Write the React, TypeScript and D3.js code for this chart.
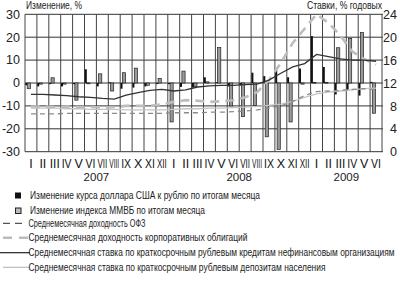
import React from "react";
import * as d3 from "d3";

// ---- data (Jan 2007 .. Jun 2009) ----
const romans = ["I", "II", "III", "IV", "V", "VI", "VII", "VIII", "IX", "X", "XI", "XII"];
const monthLabels = [...romans, ...romans, ...romans.slice(0, 6)];
const years = [
  { label: "2007", start: 0, end: 12 },
  { label: "2008", start: 12, end: 24 },
  { label: "2009", start: 24, end: 30 },
];
// monthly change of USD/RUB, %
const usdChange = [-1, -1.5, -0.5, -1.5, -0.5, 6, -1.5, 0.3, -2.5, -2, -1.5, -0.5,
  -0.5, -1.7, -2, 2.5, 0.3, -1.5, -1, 4.5, 3, 6, 2.5, 6.3,
  20.5, 7, -5, -3, -5.5, 0.5];
// monthly change of MICEX index, %
const micexChange = [-2.5, -0.5, 2.3, -0.5, -7.5, 0, 4, -3.5, 4.5, 6.5, -1, 2,
  -17, 5.2, -1.5, 0.5, 15.5, -10, -14.7, -9.8, -23.5, -29, -17, -0.5,
  0.3, 0.3, 15.4, 19.5, 22, -13.2];
// rates, % annual (right axis)
const ofzYield = [6.6, 6.6, 6.6, 6.7, 6.7, 6.7, 6.7, 6.7, 6.7, 6.7, 6.7, 6.7,
  6.8, 6.8, 6.8, 6.9, 6.9, 7.0, 7.1, 7.3, 7.6, 8.0, 8.8, 9.8,
  10.5, 10.6, 10.7, 10.9, 11.0, 10.8];
const corpYield = [7.9, 7.9, 7.8, 7.9, 7.8, 7.8, 7.7, 7.8, 8.0, 8.0, 8.0, 8.3,
  8.7, 9.0, 8.9, 8.7, 8.8, 9.0, 9.5, 10.4, 12.5, 15.5, 19.0, 21.5,
  24.0, 22.5, 20.3, 17.5, 16.2, 15.2];
const loanRate = [10.0, 10.0, 9.9, 9.8, 9.6, 9.5, 9.3, 9.2, 9.9, 10.3, 10.7, 10.9,
  10.6, 10.8, 11.3, 11.5, 11.6, 11.6, 11.7, 11.8, 12.5, 13.7, 14.8, 15.4,
  17.0, 16.6, 16.2, 16.0, 16.0, 15.8];
const depositRate = [7.6, 7.6, 7.6, 7.5, 7.5, 7.4, 7.4, 7.4, 7.3, 7.3, 7.3, 7.3,
  7.4, 7.5, 7.5, 7.6, 7.6, 7.7, 7.8, 7.9, 8.1, 8.3, 8.8, 9.5,
  10.1, 10.4, 10.6, 10.8, 11.0, 11.1];
const leftTicks = [30, 20, 10, 0, -10, -20, -30];
const rightTicks = [24, 20, 16, 12, 8, 4, 0];

const legendItems = [
  { kind: "black", text: "Изменение курса доллара США к рублю по итогам месяца", len: 230 },
  { kind: "gray", text: "Изменение индекса ММВБ по итогам месяца", len: 175 },
  { kind: "ofz", text: "Среднемесячная доходность ОФЗ", len: 117 },
  { kind: "corp", text: "Среднемесячная доходность корпоративных облигаций", len: 219 },
  { kind: "loan", text: "Среднемесячная ставка по краткосрочным рублевым кредитам нефинансовым организациям", len: 366 },
  { kind: "dep", text: "Среднемесячная ставка по краткосрочным рублевым депозитам населения", len: 297 },
];

const FONT = "'Liberation Sans Narrow', 'Liberation Sans', Arial, sans-serif";
const SANS = "'Liberation Sans', Arial, sans-serif";

// text squeezed horizontally to a given width (scale keeps the box honest)
function Squeezed(props: { x: number; y: number; width: number; size: number; anchor?: string; sx?: number; children: string }) {
  const sx = props.sx ?? 0.72;
  return (
    <text transform={`translate(${props.x},${props.y}) scale(${sx},1)`} fontSize={props.size}
      textAnchor={props.anchor ?? "start"} textLength={props.width / sx} lengthAdjust="spacingAndGlyphs"
      fill="#222">{props.children}</text>
  );
}

export default function App() {
  const W = 400, H = 285;
  const x0 = 25, x1 = 382, yTop = 14.3, yBot = 151.7;
  const n = monthLabels.length;
  const x = d3.scaleLinear().domain([0, n]).range([x0, x1]);
  const yL = d3.scaleLinear().domain([-30, 30]).range([yBot, yTop]);
  const yR = d3.scaleLinear().domain([0, 24]).range([yBot, yTop]);

  const line = (vals: number[]) =>
    d3.line<number>().x((_, i) => x(i + 0.5)).y((v) => yR(v))(vals) || "";

  const legendY = [195.5, 210.5, 223.3, 237.7, 252.7, 267.3];
  const cellW = x(1) - x(0);
  const monthFs = 12.5;
  const estWidth = (s: string) =>
    s.split("").reduce((a, c) => a + (c === "I" ? 0.278 : 0.667), 0) * monthFs;

  return (
    <svg width={W} height={H} style={{ position: "absolute", left: 0, top: 0, background: "#fff" }}
      fontFamily={FONT}>
      {/* headings */}
      <Squeezed x={26} y={9} width={56} size={10.5}>Изменение, %</Squeezed>
      <Squeezed x={307} y={8.5} width={75} size={10.5}>Ставки, % годовых</Squeezed>

      {/* horizontal grid */}
      {leftTicks.map((t) => (
        <line key={"h" + t} x1={x0} x2={x1 + 1} y1={yL(t)} y2={yL(t)} stroke="#333" strokeWidth={1} />
      ))}
      {/* vertical grid */}
      {d3.range(n + 1).map((i) => (
        <line key={"v" + i} x1={x(i)} x2={x(i)} y1={yTop} y2={yBot} stroke="#444" strokeWidth={1} />
      ))}

      {/* axis labels */}
      {leftTicks.map((t) => (
        <text key={"l" + t} x={20} y={yL(t) + 4.3} fontSize={12.5} textAnchor="end" fill="#222"
          fontFamily={SANS}>{t}</text>
      ))}
      {rightTicks.map((t) => (
        <text key={"r" + t} x={397} y={yR(t) + 4.6} fontSize={12.5} textAnchor="end" fill="#222"
          fontFamily={SANS}>{t}</text>
      ))}

      {/* bars */}
      {micexChange.map((v, i) => (
        <rect key={"g" + i} x={x(i) + 2.2} width={3.2}
          y={Math.min(yL(v), yL(0))} height={Math.max(0.8, Math.abs(yL(v) - yL(0)))}
          fill="#999" stroke="#222" strokeWidth={0.7} />
      ))}
      {usdChange.map((v, i) => (
        <rect key={"b" + i} x={x(i) + 0.3} width={2}
          y={Math.min(yL(v), yL(0))} height={Math.max(0.8, Math.abs(yL(v) - yL(0)))}
          fill="#111" />
      ))}

      {/* lines */}
      <path d={line(depositRate)} fill="none" stroke="#c4c4c4" strokeWidth={1.3} />
      <path d={line(ofzYield)} fill="none" stroke="#8a8a8a" strokeWidth={1.3} strokeDasharray="5,4" />
      <path d={line(corpYield)} fill="none" stroke="#bdbdbd" strokeWidth={2.6} strokeDasharray="9,6" />
      <path d={line(loanRate)} fill="none" stroke="#333" strokeWidth={1.3} />

      {/* month labels */}
      {monthLabels.map((m, i) => {
        const sx = Math.min(1, (cellW - 2) / estWidth(m));
        return (
          <text key={"m" + i} transform={`translate(${x(i + 0.5)},167.5) scale(${sx},1)`}
            fontSize={monthFs} textAnchor="middle" fill="#111" fontFamily={SANS}>{m}</text>
        );
      })}
      {years.map((yv) => (
        <text key={yv.label} x={(x(yv.start) + x(yv.end)) / 2} y={180.5} fontSize={11.5}
          textAnchor="middle" fill="#222" fontFamily={SANS}>{yv.label}</text>
      ))}

      {/* legend */}
      {legendItems.map((it, k) => {
        const cy = legendY[k];
        let sym: React.ReactNode = null;
        if (it.kind === "black") sym = <rect x={15} y={cy - 3} width={6} height={6} fill="#111" />;
        else if (it.kind === "gray") sym = <rect x={15.5} y={cy - 2.5} width={5.5} height={5.5} fill="#bbb" stroke="#222" strokeWidth={1} />;
        else if (it.kind === "ofz") sym = <line x1={3} x2={23} y1={cy} y2={cy} stroke="#555" strokeWidth={1.2} strokeDasharray="7,5" />;
        else if (it.kind === "corp") sym = <line x1={3} x2={28} y1={cy} y2={cy} stroke="#bbb" strokeWidth={2.6} strokeDasharray="9,7" />;
        else if (it.kind === "loan") sym = <line x1={0} x2={30} y1={cy} y2={cy} stroke="#222" strokeWidth={1.2} />;
        else sym = <line x1={3} x2={30} y1={cy} y2={cy} stroke="#bbb" strokeWidth={1.2} />;
        const tx = it.kind === "black" || it.kind === "gray" ? 30 : 28.5;
        return (
          <g key={"lg" + k}>
            {sym}
            <Squeezed x={tx} y={cy + 3.5} width={it.len} size={10}>{it.text}</Squeezed>
          </g>
        );
      })}
    </svg>
  );
}
